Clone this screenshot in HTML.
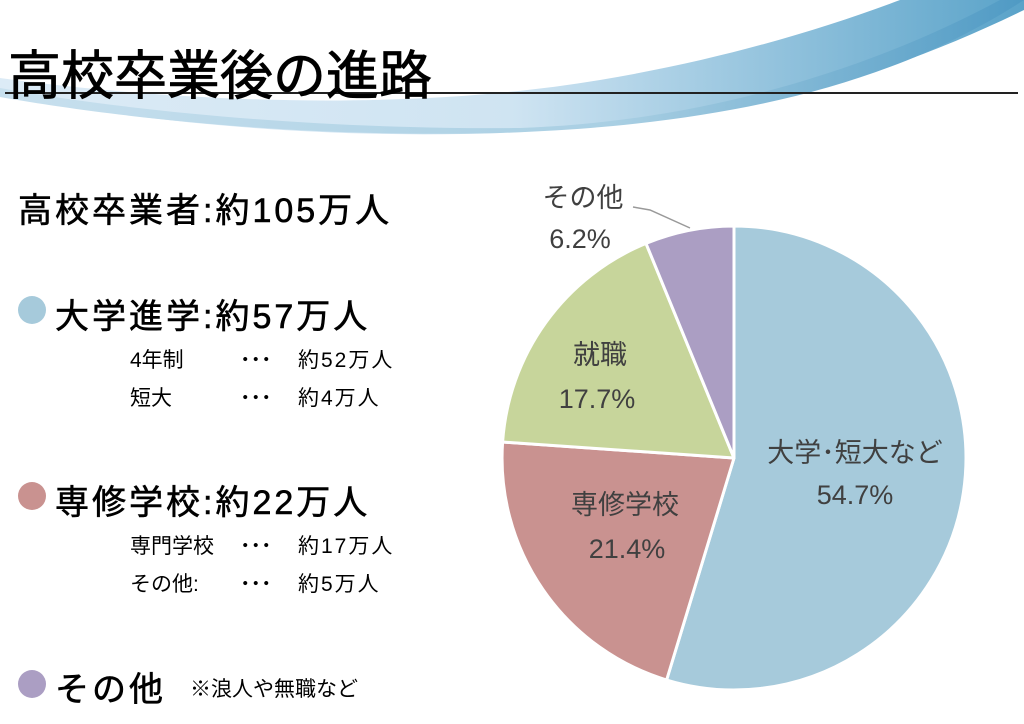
<!DOCTYPE html>
<html><head><meta charset="utf-8"><style>
body{margin:0;width:1024px;height:724px;background:#fff;overflow:hidden;position:relative;font-family:"Liberation Sans","Noto Sans CJK JP",sans-serif;}
.t{position:absolute;white-space:nowrap;color:#000;}
.b{letter-spacing:3px;-webkit-text-stroke:0.6px #000;}
.s{font-size:21px;}
.dot{position:absolute;width:28px;height:28px;border-radius:50%;}
</style></head><body>
<svg width="1024" height="724" style="position:absolute;left:0;top:0">
<defs>
<linearGradient id="g1" x1="0" x2="1" y1="0" y2="0">
<stop offset="0" stop-color="#dcebf6"/><stop offset="0.5" stop-color="#cfe4f2"/><stop offset="1" stop-color="#5aa3c9"/></linearGradient>
<linearGradient id="g2" x1="0" x2="1"><stop offset="0" stop-color="#c8e0ee"/><stop offset="0.6" stop-color="#a9cfe3"/><stop offset="1" stop-color="#4f9ac4"/></linearGradient>
</defs>
<path d="M0,78 C200,105 420,110 600,80 C720,60 820,30 900,0 L1024,0 L1024,10 C900,70 760,120 500,133 C300,140 120,118 0,95 Z" fill="url(#g1)"/>
<path d="M0,88 C150,115 350,130 520,128 C700,122 870,70 1000,0 L1024,0 C900,80 740,125 500,133 C300,138 120,118 0,97 Z" fill="url(#g2)"/>
<line x1="5" y1="93" x2="1018" y2="93" stroke="#222" stroke-width="2"/>
<g stroke="#fff" stroke-width="3" stroke-linejoin="round">
<path d="M734,458 L734,226 A232,232 0 1 1 666.6,680 Z" fill="#a6cadb"/>
<path d="M734,458 L666.6,680 A232,232 0 0 1 502.6,442 Z" fill="#c99290"/>
<path d="M734,458 L502.6,442 A232,232 0 0 1 646,243.4 Z" fill="#c7d59b"/>
<path d="M734,458 L646,243.4 A232,232 0 0 1 734,226 Z" fill="#ab9ec3"/>
</g>
<polyline points="633,207 650,210 690,228" fill="none" stroke="#999" stroke-width="1.5"/>
<g font-family="Liberation Sans,Noto Sans CJK JP,sans-serif" fill="#404040" font-size="27" text-anchor="middle">
<text x="583" y="207">その他</text><text x="580" y="248">6.2%</text>
<text x="600" y="364">就職</text><text x="597" y="408">17.7%</text>
<text x="625" y="514">専修学校</text><text x="627" y="558">21.4%</text>
<text x="855" y="462">大学･短大など</text><text x="855" y="504">54.7%</text>
</g>
</svg>
<div class="t" style="left:8px;top:34px;font-size:53px;-webkit-text-stroke:0.8px #000">高校卒業後の進路</div>
<div class="t b" style="left:18px;top:183px;font-size:34px">高校卒業者:約105万人</div>
<div class="dot" style="left:18px;top:296px;background:#a6cadb"></div>
<div class="t b" style="left:55px;top:289px;font-size:34px">大学進学:約57万人</div>
<div class="t s" style="left:130px;top:344px">4年制</div>
<div class="t s" style="left:240px;top:344px;font-weight:bold">･･･</div>
<div class="t s" style="left:298px;top:344px;letter-spacing:2px">約52万人</div>
<div class="t s" style="left:130px;top:382px">短大</div>
<div class="t s" style="left:240px;top:382px;font-weight:bold">･･･</div>
<div class="t s" style="left:298px;top:382px;letter-spacing:2px">約4万人</div>
<div class="dot" style="left:18px;top:482px;background:#c99290"></div>
<div class="t b" style="left:55px;top:475px;font-size:34px">専修学校:約22万人</div>
<div class="t s" style="left:130px;top:530px">専門学校</div>
<div class="t s" style="left:240px;top:530px;font-weight:bold">･･･</div>
<div class="t s" style="left:298px;top:530px;letter-spacing:2px">約17万人</div>
<div class="t s" style="left:130px;top:568px">その他:</div>
<div class="t s" style="left:240px;top:568px;font-weight:bold">･･･</div>
<div class="t s" style="left:298px;top:568px;letter-spacing:2px">約5万人</div>
<div class="dot" style="left:18px;top:670px;background:#ab9ec3"></div>
<div class="t b" style="left:55px;top:662px;font-size:34px">その他</div>
<div class="t" style="left:190px;top:673px;font-size:21px">※浪人や無職など</div>
</body></html>
